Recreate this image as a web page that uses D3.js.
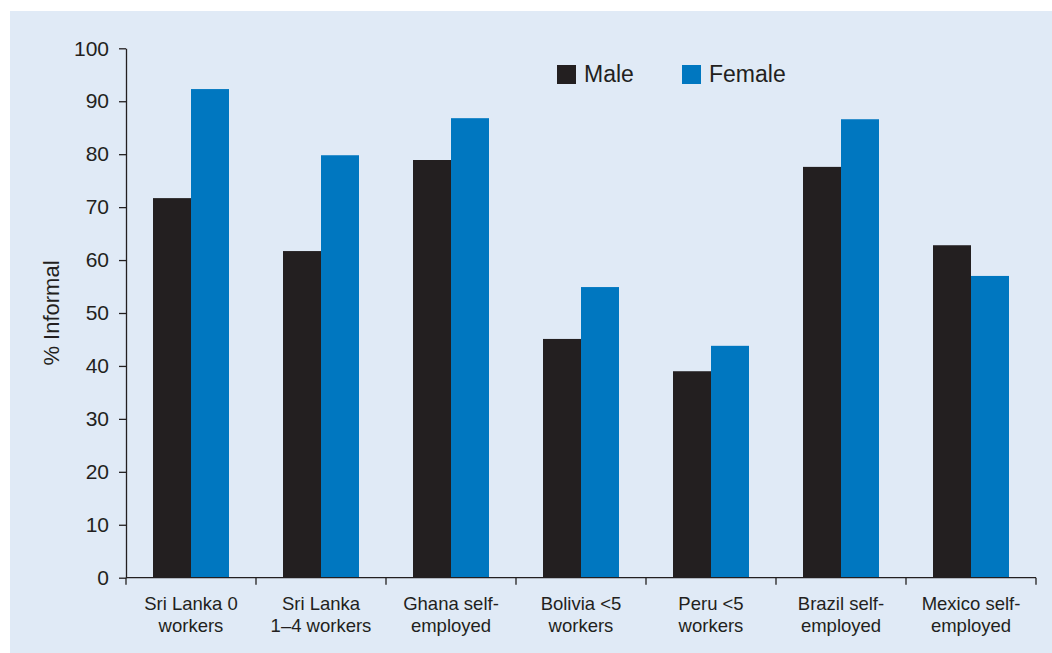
<!DOCTYPE html>
<html>
<head>
<meta charset="utf-8">
<script src="https://cdn.jsdelivr.net/npm/d3@7"></script>
<style>
  html, body { margin: 0; padding: 0; background: #ffffff; }
  svg { display: block; font-family: "Liberation Sans", Arial, sans-serif; }
</style>
</head>
<body>
<svg id="chart" width="1052" height="653"></svg>
<script>
const categories = [
  ["Sri Lanka 0", "workers"],
  ["Sri Lanka", "1\u20134 workers"],
  ["Ghana self-", "employed"],
  ["Bolivia <5", "workers"],
  ["Peru <5", "workers"],
  ["Brazil self-", "employed"],
  ["Mexico self-", "employed"]
];
const seriesNames = ["Male", "Female"];
const maleValues = [71.7, 61.7, 78.9, 45.1, 39.0, 77.6, 62.8];
const femaleValues = [92.3, 79.8, 86.8, 54.9, 43.8, 86.6, 57.0];
const yTicks = [0, 10, 20, 30, 40, 50, 60, 70, 80, 90, 100];
const yTitle = "% Informal";

(function () {
const colors = { Male: "#231f20", Female: "#0077c0" };
const ink = "#231f20";

const svg = d3.select("#chart");
svg.append("rect").attr("x", 10).attr("y", 11).attr("width", 1042).attr("height", 642).attr("fill", "#e0eaf6");

const pLeft = 126, pRight = 1036, pTop = 48.3, pBottom = 577.7;
const catIdx = categories.map((d, i) => i);
const x = d3.scaleBand().domain(catIdx).range([pLeft, pRight]).paddingInner(0).paddingOuter(0);
const x1 = d3.scaleBand().domain(seriesNames).range([27, 27 + 76]).padding(0);
const y = d3.scaleLinear().domain([0, 100]).range([pBottom, pTop]);

const data = categories.map((c, i) => ({ i, vals: [
  { key: "Male", v: maleValues[i] },
  { key: "Female", v: femaleValues[i] }
]}));

const g = svg.append("g");
g.selectAll("g.grp").data(data).join("g").attr("class", "grp")
  .attr("transform", d => `translate(${x(d.i)},0)`)
  .selectAll("rect").data(d => d.vals).join("rect")
  .attr("x", d => x1(d.key)).attr("width", x1.bandwidth())
  .attr("y", d => y(d.v)).attr("height", d => y(0) - y(d.v))
  .attr("fill", d => colors[d.key]);

// Y axis
const yAxis = d3.axisLeft(y).tickValues(yTicks).tickSize(7).tickPadding(10).tickSizeOuter(0);
const ya = svg.append("g").attr("transform", `translate(${pLeft},0)`).call(yAxis);
ya.select(".domain").attr("stroke", ink).attr("stroke-width", 1.3);
ya.selectAll(".tick line").attr("stroke", ink).attr("stroke-width", 1.3);
ya.selectAll(".tick text").attr("font-size", 21).attr("fill", ink)
  .attr("font-family", "'Liberation Sans', Arial, sans-serif");

// X axis baseline and ticks at band boundaries
svg.append("line").attr("x1", pLeft).attr("x2", pRight).attr("y1", pBottom).attr("y2", pBottom)
  .attr("stroke", ink).attr("stroke-width", 1.3);
const boundaries = catIdx.map(i => x(i)).concat([x(catIdx[catIdx.length - 1]) + x.bandwidth()]);
svg.selectAll("line.xt").data(boundaries).join("line").attr("class", "xt")
  .attr("x1", d => d).attr("x2", d => d).attr("y1", pBottom).attr("y2", pBottom + 7)
  .attr("stroke", ink).attr("stroke-width", 1.3);

// Category labels
const lbl = svg.selectAll("text.cat").data(categories).join("text").attr("class", "cat")
  .attr("x", (d, i) => x(i) + x.bandwidth() / 2)
  .attr("y", 610)
  .attr("text-anchor", "middle").attr("font-size", 18.5).attr("fill", ink);
lbl.selectAll("tspan").data(d => d).join("tspan")
  .attr("x", function () { return this.parentNode.getAttribute("x"); })
  .attr("dy", (d, j) => j === 0 ? 0 : 21.7)
  .text(d => d);

// Y title
svg.append("text")
  .attr("transform", `translate(59,${(pTop + pBottom) / 2}) rotate(-90)`)
  .attr("text-anchor", "middle").attr("font-size", 22).attr("fill", ink)
  .text(yTitle);

// Legend
const legendX = [557, 682];
const lg = svg.selectAll("g.leg").data(seriesNames).join("g").attr("class", "leg")
  .attr("transform", (d, i) => `translate(${legendX[i]},65)`);
lg.append("rect").attr("width", 19).attr("height", 19).attr("fill", d => colors[d]);
lg.append("text").attr("x", 27).attr("y", 17).attr("font-size", 23).attr("fill", ink).text(d => d);
})();
</script>
</body>
</html>
